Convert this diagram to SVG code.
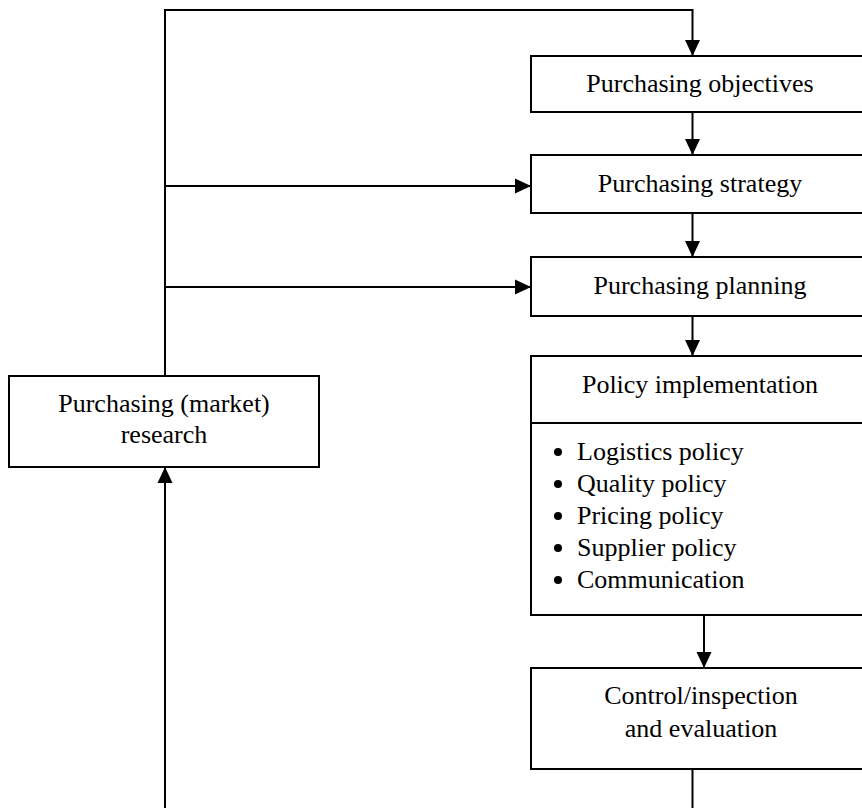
<svg xmlns="http://www.w3.org/2000/svg" width="862" height="808" viewBox="0 0 862 808">
  <style>
    .box { fill: #ffffff; stroke: #000000; stroke-width: 2; }
    .wire { fill: none; stroke: #000000; stroke-width: 2; }
    .lbl { font-family: "Liberation Serif", "Times New Roman", serif; font-size: 26px; fill: #000000; }
    .mid { text-anchor: middle; }
    .dot { fill: #000000; }
  </style>
  <defs>
    <marker id="head" markerUnits="userSpaceOnUse" markerWidth="17" markerHeight="17" viewBox="0 0 17 17" refX="16" refY="8.5" orient="auto">
      <path d="M0,1 L16,8.5 L0,16 Z" fill="#000000"/>
    </marker>
  </defs>
  <rect width="862" height="808" fill="#ffffff"/>

  <!-- connectors -->
  <g id="connectors">
    <path class="wire" d="M165,376 V10 H692.5 V56" marker-end="url(#head)"/>
    <path class="wire" d="M165,186 H531" marker-end="url(#head)"/>
    <path class="wire" d="M165,287 H531" marker-end="url(#head)"/>
    <path class="wire" d="M692.5,112 V155" marker-end="url(#head)"/>
    <path class="wire" d="M692.5,213 V257" marker-end="url(#head)"/>
    <path class="wire" d="M692.5,316 V356" marker-end="url(#head)"/>
    <path class="wire" d="M704,615 V668" marker-end="url(#head)"/>
    <path class="wire" d="M692.5,769 V808"/>
    <path class="wire" d="M165,808 V467" marker-end="url(#head)"/>
  </g>

  <g id="objectives">
    <rect class="box" x="531" y="56" width="340" height="56"/>
    <text class="lbl mid" x="700" y="92">Purchasing objectives</text>
  </g>

  <g id="strategy">
    <rect class="box" x="531" y="155" width="340" height="58"/>
    <text class="lbl mid" x="700" y="192">Purchasing strategy</text>
  </g>

  <g id="planning">
    <rect class="box" x="531" y="257" width="340" height="59"/>
    <text class="lbl mid" x="700" y="294">Purchasing planning</text>
  </g>

  <g id="policy">
    <rect class="box" x="531" y="356" width="340" height="259"/>
    <line class="wire" x1="531" y1="423" x2="871" y2="423"/>
    <text class="lbl mid" x="700" y="393">Policy implementation</text>
    <!-- list markers -->
    <circle class="dot" cx="558" cy="452" r="4"/>
    <circle class="dot" cx="558" cy="484" r="4"/>
    <circle class="dot" cx="558" cy="516" r="4"/>
    <circle class="dot" cx="558" cy="548" r="4"/>
    <circle class="dot" cx="558" cy="580" r="4"/>
    <text class="lbl" x="577" y="460">Logistics policy</text>
    <text class="lbl" x="577" y="492">Quality policy</text>
    <text class="lbl" x="577" y="524">Pricing policy</text>
    <text class="lbl" x="577" y="556">Supplier policy</text>
    <text class="lbl" x="577" y="588">Communication</text>
  </g>

  <g id="control">
    <rect class="box" x="531" y="668" width="340" height="101"/>
    <text class="lbl mid" x="701" y="704">Control/inspection</text>
    <text class="lbl mid" x="701" y="737">and evaluation</text>
  </g>

  <g id="research">
    <rect class="box" x="9" y="376" width="310" height="91"/>
    <text class="lbl mid" x="164" y="412">Purchasing (market)</text>
    <text class="lbl mid" x="164" y="443">research</text>
  </g>
</svg>
